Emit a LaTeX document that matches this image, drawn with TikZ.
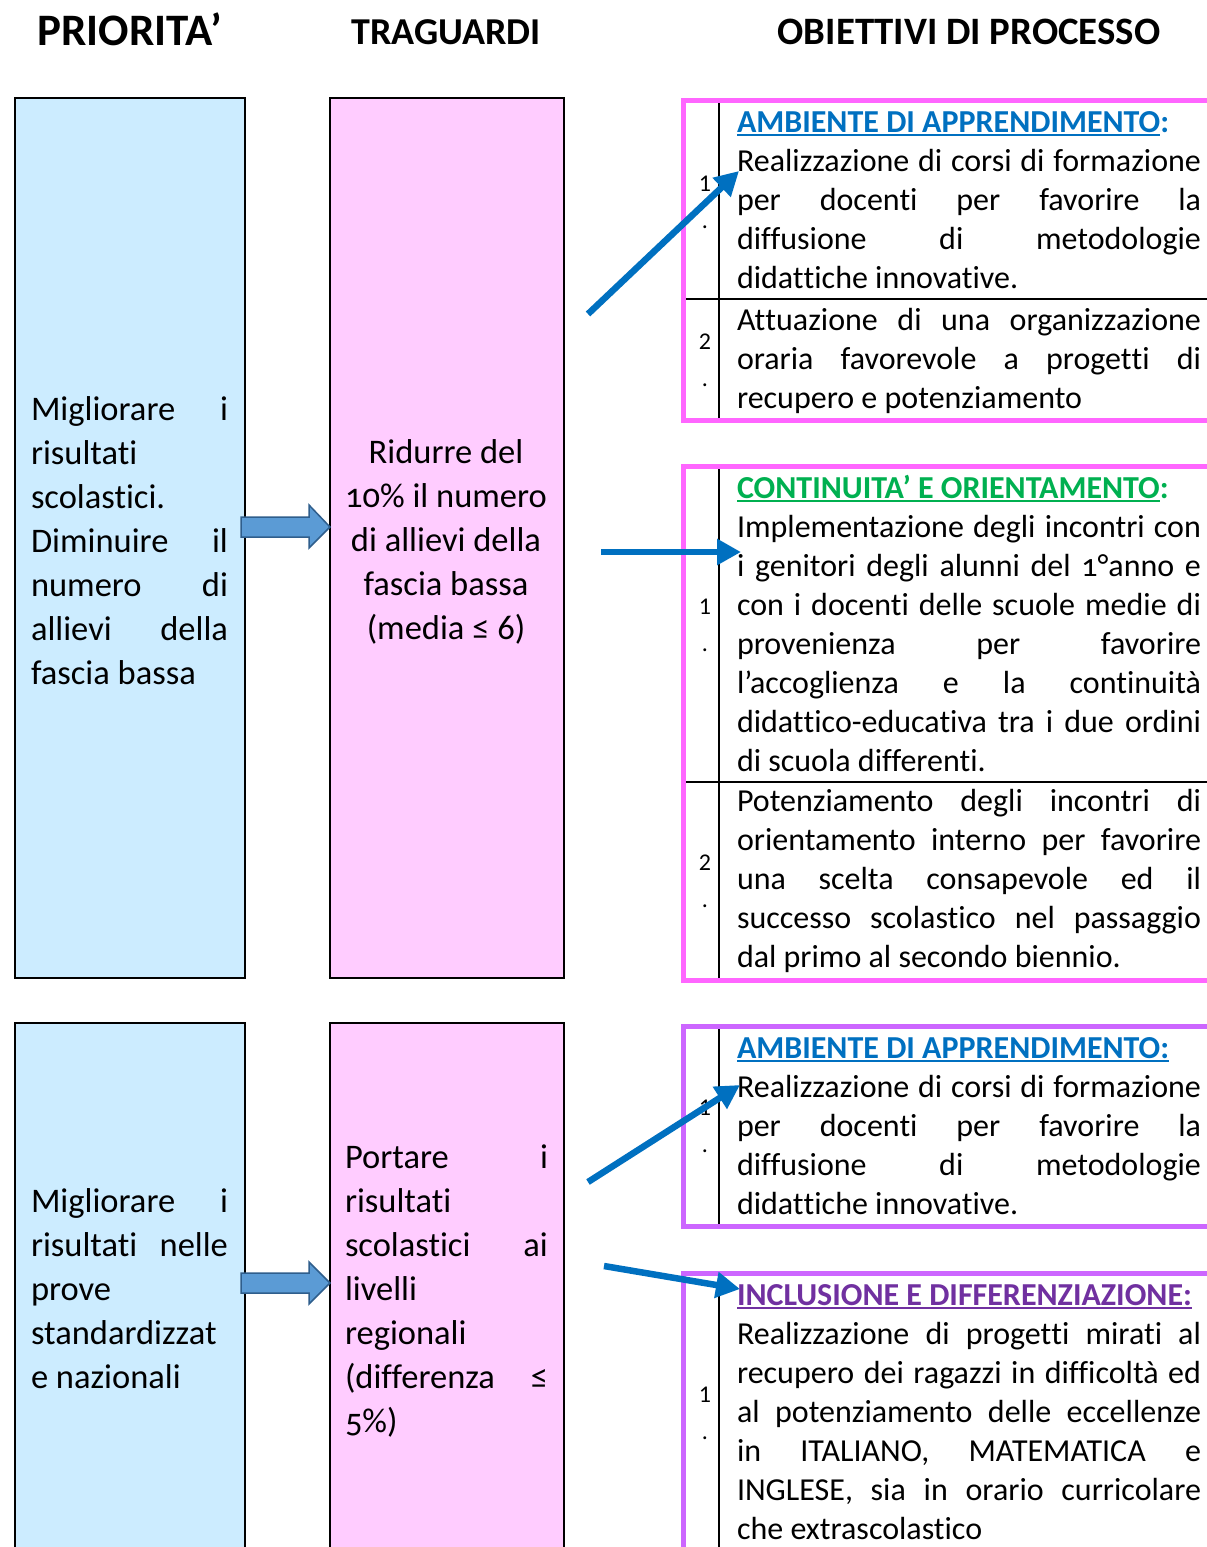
\documentclass[tikz,border=0pt]{standalone}
\usepackage{fontspec}
\setmainfont[Ligatures={NoCommon,NoRequired,NoContextual,NoRare},Contextuals=NoAlternate]{Carlito}
\usetikzlibrary{arrows.meta}
\XeTeXinterchartokenstate=1
\newXeTeXintercharclass\tchclass
\newXeTeXintercharclass\ichclass
\XeTeXcharclass`t=\tchclass
\XeTeXcharclass`i=\ichclass
\XeTeXinterchartoks\tchclass\ichclass={\kern0pt }
\XeTeXinterchartoks\tchclass\tchclass={\kern0pt }
\definecolor{boxblue}{HTML}{CCECFF}
\definecolor{boxpink}{HTML}{FFCCFF}
\definecolor{magborder}{HTML}{FF66FF}
\definecolor{purborder}{HTML}{CC66FF}
\definecolor{arrblue}{HTML}{0070C0}
\definecolor{blkfill}{HTML}{5B9BD5}
\definecolor{blkline}{HTML}{2F5E8C}
\definecolor{hblue}{HTML}{0070C0}
\definecolor{hgreen}{HTML}{00B050}
\definecolor{hpurple}{HTML}{7030A0}
\newcommand{\fs}[2]{\fontsize{#1pt}{#2pt}\selectfont}
\newcommand{\J}[1]{\makebox[\linewidth][s]{#1}\\}
\newcommand{\UL}[1]{\sbox0{#1}\rlap{\rule[-3.5pt]{\wd0}{1.8pt}}\usebox0}
\newcommand{\os}[1]{{\addfontfeatures{Numbers=OldStyle}#1}}
\tikzset{
  colbox/.style={draw=black, line width=2pt, minimum width=230pt, anchor=north west, inner sep=0pt},
  txt/.style={anchor=base west, inner sep=0pt, outer sep=0pt},
  numtxt/.style={anchor=base, inner sep=0pt, outer sep=0pt},
  hdr/.style={anchor=base, inner sep=0pt, font=\bfseries},
  panelline/.style={draw=black, line width=2pt},
  panelborder/.style={line width=5pt},
  blockarr/.style={fill=blkfill, draw=blkline, line width=1.5pt, line join=miter},
  thinarr/.style={draw=arrblue, line width=6.5pt, -{Triangle[length=24pt,width=25pt]}},
}
\begin{document}
\begin{tikzpicture}[x=1pt,y=-1pt]
\useasboundingbox (0,0) rectangle (1207,1547);
\clip (0,0) rectangle (1207,1547);
\fill[white] (0,0) rectangle (1207,1547);

% headers
\node[hdr, font=\bfseries\fs{45}{50}] (h1) at (130,45) {PRIORITA’};
\node[hdr, font=\bfseries\fs{38}{45}] (h2) at (446,44) {TRAGUARDI};
\node[hdr, font=\bfseries\fs{38.8}{45}] (h3) at (969,44) {OBIETTIVI DI PROCESSO};

% left columns
\node[colbox, fill=boxblue, minimum width=230pt, minimum height=880pt] (pr1) at (14,97) {};
\node[colbox, fill=boxpink, minimum width=234pt, minimum height=880pt] (tr1) at (329,97) {};
\node[colbox, fill=boxblue, minimum width=230pt, minimum height=560pt] (pr2) at (14,1022) {};
\node[colbox, fill=boxpink, minimum width=234pt, minimum height=560pt] (tr2) at (329,1022) {};

\node[txt] (l1) at (31,420) {\parbox[t]{197pt}{\fs{34.5}{44}\J{Migliorare i}risultati\\scolastici.\\\J{Diminuire il}\J{numero di}\J{allievi della}fascia bassa}};
\node[txt] (m1) at (336,463) {\parbox[t]{220pt}{\centering\fs{34.5}{44}Ridurre del\\\os{10\%} il numero\\di allievi della\\fascia bassa\\(media ≤ 6)}};
\node[txt] (l2) at (31,1212) {\parbox[t]{197pt}{\fs{34.5}{44}\J{Migliorare i}\J{risultati nelle}prove\\standardizzat\\e nazionali}};
\node[txt] (m2) at (345,1168) {\parbox[t]{203pt}{\fs{34.5}{44}\J{Portare i}risultati\\\J{scolastici ai}livelli\\regionali\\\J{(differenza ≤}\os{5\%})}};

% block arrows
\draw[blockarr] (241,517) -- (309,517) -- (309,505) -- (330,527) -- (309,548) -- (309,537) -- (241,537) -- cycle;
\draw[blockarr] (241,1273) -- (309,1273) -- (309,1262) -- (330,1283) -- (309,1304) -- (309,1293) -- (241,1293) -- cycle;

% panel 1
\draw[panelline] (719,100) -- (719,420);
\draw[panelline] (683,299) -- (1215,299);
\draw[panelborder, draw=magborder] (683,100) rectangle (1215,420);
\node[txt] (t1a) at (737,132) {\parbox[t]{464pt}{\fs{32}{39}\textbf{\color{hblue}\UL{AMBIENTE DI APPRENDIMENTO}:}\\\J{Realizzazione di corsi di formazione}\J{per docenti per favorire la}\J{diffusione di metodologie}didattiche innovative.}};
\node[txt] (t1b) at (737,330) {\parbox[t]{464pt}{\fs{32}{39}\J{Attuazione di una organizzazione}\J{oraria favorevole a progetti di}recupero e potenziamento}};
\node[numtxt] (n1a) at (705,191) {\parbox[t]{30pt}{\centering\fs{24}{37}1\\.}};
\node[numtxt] (n1b) at (705,349) {\parbox[t]{30pt}{\centering\fs{24}{37}2\\.}};

% panel 2
\draw[panelline] (719,466) -- (719,980);
\draw[panelline] (683,782) -- (1215,782);
\draw[panelborder, draw=magborder] (683,466) rectangle (1215,980);
\node[txt] (t2a) at (737,498) {\parbox[t]{464pt}{\fs{32}{39}\textbf{\color{hgreen}\UL{CONTINUITA’ E ORIENTAMENTO}:}\\\J{Implementazione degli incontri con}\J{i genitori degli alunni del \os{1}°anno e}\J{con i docenti delle scuole medie di}\J{provenienza per favorire}\J{l’accoglienza e la continuità}\J{didattico-educativa tra i due ordini}di scuola differenti.}};
\node[txt] (t2b) at (737,811) {\parbox[t]{464pt}{\fs{32}{39}\J{Potenziamento degli incontri di}\J{orientamento interno per favorire}\J{una scelta consapevole ed il}\J{successo scolastico nel passaggio}dal primo al secondo biennio.}};
\node[numtxt] (n2a) at (705,614) {\parbox[t]{30pt}{\centering\fs{24}{37}1\\.}};
\node[numtxt] (n2b) at (705,870) {\parbox[t]{30pt}{\centering\fs{24}{37}2\\.}};

% panel 3
\draw[panelline] (719,1026) -- (719,1226);
\draw[panelborder, draw=purborder] (683,1026) rectangle (1215,1226);
\node[txt] (t3a) at (737,1058) {\parbox[t]{464pt}{\fs{32}{39}\textbf{\color{hblue}\UL{AMBIENTE DI APPRENDIMENTO:}}\\\J{Realizzazione di corsi di formazione}\J{per docenti per favorire la}\J{diffusione di metodologie}didattiche innovative.}};
\node[numtxt] (n3a) at (705,1115) {\parbox[t]{30pt}{\centering\fs{24}{37}1\\.}};

% panel 4
\draw[panelline] (719,1273) -- (719,1560);
\draw[panelborder, draw=purborder] (683,1273) rectangle (1215,1570);
\node[txt] (t4a) at (737,1305) {\parbox[t]{464pt}{\fs{32}{39}\textbf{\color{hpurple}\UL{INCLUSIONE E DIFFERENZIAZIONE:}}\\\J{Realizzazione di progetti mirati al}\J{recupero dei ragazzi in difficoltà ed}\J{al potenziamento delle eccellenze}\J{in ITALIANO, MATEMATICA e}\J{INGLESE, sia in orario curricolare}che extrascolastico}};
\node[numtxt] (n4a) at (705,1402) {\parbox[t]{30pt}{\centering\fs{24}{37}1\\.}};

% thin arrows
\coordinate (a1s) at (588,314);
\coordinate (a1e) at (739,171);
\coordinate (a2s) at (601,552);
\coordinate (a2e) at (741,552);
\coordinate (a3s) at (588,1182);
\coordinate (a3e) at (740,1085);
\coordinate (a4s) at (604,1266);
\coordinate (a4e) at (740,1289);
\draw[thinarr] (a1s) -- (a1e);
\draw[thinarr] (a2s) -- (a2e);
\draw[thinarr] (a3s) -- (a3e);
\draw[thinarr] (a4s) -- (a4e);
\end{tikzpicture}
\end{document}
